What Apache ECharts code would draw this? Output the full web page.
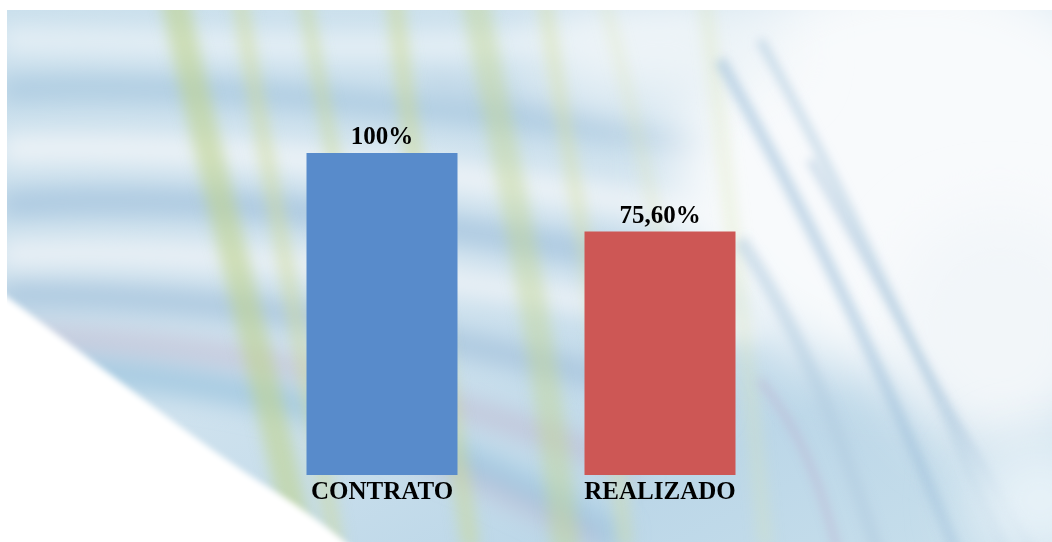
<!DOCTYPE html>
<html>
<head>
<meta charset="utf-8">
<script src="https://cdn.jsdelivr.net/npm/echarts@6/dist/echarts.min.js"></script>
<style>
html,body{margin:0;padding:0;background:#fff;}
#wrap{position:relative;width:1052px;height:542px;overflow:hidden;background:#fff;}
#bg{position:absolute;left:0;top:0;}
#chart{position:absolute;left:0;top:0;width:1052px;height:542px;}
</style>
</head>
<body>
<div id="wrap">
<svg id="bg" width="1052" height="542" viewBox="0 0 1052 542">
  <defs>
    <clipPath id="clip"><rect x="7" y="10" width="1050" height="540"/></clipPath>
    <filter id="b30" x="-50%" y="-50%" width="200%" height="200%"><feGaussianBlur stdDeviation="30"/></filter>
    <filter id="b12" x="-50%" y="-50%" width="200%" height="200%"><feGaussianBlur stdDeviation="12"/></filter>
    <filter id="b7" x="-50%" y="-50%" width="200%" height="200%"><feGaussianBlur stdDeviation="7"/></filter>
    <filter id="b5" x="-50%" y="-50%" width="200%" height="200%"><feGaussianBlur stdDeviation="5"/></filter>
    <filter id="b3" x="-50%" y="-50%" width="200%" height="200%"><feGaussianBlur stdDeviation="3"/></filter>
    <linearGradient id="base" x1="0" y1="0" x2="1" y2="1">
      <stop offset="0" stop-color="#c9dfec"/>
      <stop offset="0.45" stop-color="#cfe2ee"/>
      <stop offset="0.75" stop-color="#bcd7e8"/>
      <stop offset="1" stop-color="#c9e0ec"/>
    </linearGradient>
  </defs>
  <g clip-path="url(#clip)">
    <rect x="0" y="0" width="1060" height="560" fill="url(#base)"/>
    <!-- horizontal blue/white swooshes left -->
    <g filter="url(#b12)" fill="none">
      <path d="M0 40 C200 40 400 60 700 30" stroke="#e6f0f6" stroke-width="26"/>
      <path d="M0 90 C220 80 450 110 760 150" stroke="#a8c8df" stroke-width="20"/>
      <path d="M0 150 C250 140 500 180 800 230" stroke="#edf3f7" stroke-width="30"/>
      <path d="M0 205 C200 190 420 220 700 270" stroke="#a6c4de" stroke-width="22"/>
      <path d="M0 255 C200 245 450 275 760 330" stroke="#eef3f7" stroke-width="24"/>
      <path d="M0 295 C220 295 430 325 720 410" stroke="#a5c2dc" stroke-width="20"/>
      <path d="M0 335 C200 340 400 375 640 470" stroke="#c0b3cc" stroke-width="14" opacity="0.8"/>
      <path d="M0 365 C220 375 420 415 620 542" stroke="#a2c8e0" stroke-width="26"/>
      <path d="M380 440 C450 470 520 500 600 542" stroke="#c3b6cf" stroke-width="12" opacity="0.7"/>
      <path d="M420 80 C600 110 800 190 1052 290" stroke="#b6cfe2" stroke-width="16" opacity="0.6"/>
    </g>
    <!-- white top-right glow -->
    <ellipse cx="920" cy="170" rx="250" ry="210" fill="#f8fafc" filter="url(#b30)"/>
    <ellipse cx="1000" cy="330" rx="110" ry="120" fill="#f2f6f9" filter="url(#b30)"/>
    <ellipse cx="660" cy="50" rx="130" ry="50" fill="#eef4f8" filter="url(#b30)"/>
    <!-- green/yellow streaks -->
    <g filter="url(#b7)" fill="none" stroke-linecap="round">
      <path d="M175 0 C205 150 260 350 300 542" stroke="#bfd38f" stroke-width="28" opacity="0.6"/>
      <path d="M240 0 C265 160 305 360 335 542" stroke="#cfdc98" stroke-width="16" opacity="0.5"/>
      <path d="M305 0 C325 120 355 260 380 420" stroke="#c9d994" stroke-width="14" opacity="0.5"/>
      <path d="M395 0 C410 150 440 330 470 542" stroke="#cbd992" stroke-width="18" opacity="0.5"/>
      <path d="M475 0 C505 160 545 330 565 542" stroke="#c4d692" stroke-width="28" opacity="0.45"/>
      <path d="M545 0 C565 150 605 330 625 542" stroke="#d6e1a0" stroke-width="14" opacity="0.45"/>
      <path d="M705 0 C725 160 745 330 765 542" stroke="#d9e5b2" stroke-width="12" opacity="0.35"/>
      <path d="M605 0 C645 160 675 300 695 420" stroke="#dce6b3" stroke-width="10" opacity="0.35"/>
    </g>
    <!-- right diagonal streaks -->
    <g filter="url(#b5)" fill="none">
      <path d="M720 60 C800 200 880 360 960 560" stroke="#a3c3dc" stroke-width="12" opacity="0.6"/>
      <path d="M760 40 C850 200 930 380 1010 560" stroke="#b0cbe0" stroke-width="9" opacity="0.6"/>
      <path d="M810 160 C880 280 950 420 1040 560" stroke="#a6c3db" stroke-width="7" opacity="0.6"/>
      <path d="M740 240 C800 330 840 430 880 560" stroke="#b2cce0" stroke-width="14" opacity="0.55"/>
      <path d="M760 380 C800 430 820 480 840 560" stroke="#bbadcf" stroke-width="7" opacity="0.45"/>
    </g>
    <!-- bottom-right lighter -->
    <ellipse cx="1040" cy="500" rx="70" ry="60" fill="#e8f2f8" filter="url(#b30)"/>
    <!-- bottom-left white region -->
    <path d="M0 292 C80 350 180 430 260 482 C300 507 330 527 365 560 L0 560 Z" fill="#ffffff" filter="url(#b3)"/>
  </g>
  <rect x="0" y="0" width="1052" height="10" fill="#fff"/>
  <rect x="0" y="0" width="7" height="542" fill="#fff"/>
</svg>
<div id="chart"></div>
</div>
<script>
var categories = ['CONTRATO', 'REALIZADO'];
var values = [100, 75.6];
var valueLabels = ['100%', '75,60%'];
var barColors = ['#588bcb', '#cd5755'];

var chart = echarts.init(document.getElementById('chart'), null, {renderer: 'canvas'});
chart.setOption({
  backgroundColor: 'transparent',
  animation: false,
  grid: {left: 243, width: 556, top: 153, bottom: 67, containLabel: false},
  xAxis: {
    type: 'category',
    data: categories,
    axisLine: {show: false},
    axisTick: {show: false},
    axisLabel: {
      margin: 5,
      color: '#000',
      fontFamily: 'Liberation Serif',
      fontWeight: 'bold',
      fontSize: 25
    }
  },
  yAxis: {
    type: 'value',
    min: 0,
    max: 100,
    show: false,
    splitLine: {show: false}
  },
  series: [{
    type: 'bar',
    barWidth: 151,
    data: values.map(function (v, i) {
      return {value: v, itemStyle: {color: barColors[i]}};
    }),
    label: {
      show: true,
      position: 'top',
      distance: 3,
      color: '#000',
      fontFamily: 'Liberation Serif',
      fontWeight: 'bold',
      fontSize: 25,
      formatter: function (p) { return valueLabels[p.dataIndex]; }
    }
  }]
});
</script>
</body>
</html>
